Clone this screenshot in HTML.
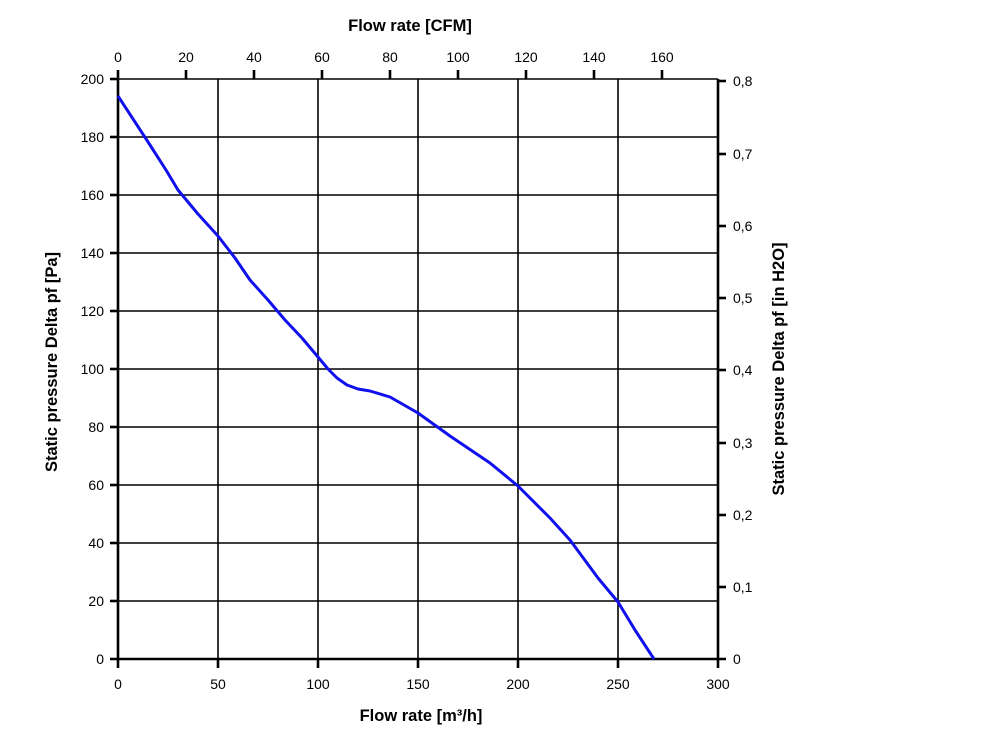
<!DOCTYPE html>
<html><head><style>body{margin:0;background:#fff}svg{display:block}text{font-family:"Liberation Sans",Arial,sans-serif;font-size:14px;fill:#000}.t{font-size:16.5px;font-weight:bold}</style></head><body>
<svg width="1000" height="736" xmlns="http://www.w3.org/2000/svg">
<g stroke="#000" stroke-width="1.6">
<line x1="118" y1="79" x2="718" y2="79"/><line x1="118" y1="137" x2="718" y2="137"/><line x1="118" y1="195" x2="718" y2="195"/><line x1="118" y1="253" x2="718" y2="253"/><line x1="118" y1="311" x2="718" y2="311"/><line x1="118" y1="369" x2="718" y2="369"/><line x1="118" y1="427" x2="718" y2="427"/><line x1="118" y1="485" x2="718" y2="485"/><line x1="118" y1="543" x2="718" y2="543"/><line x1="118" y1="601" x2="718" y2="601"/>
<line x1="218" y1="79" x2="218" y2="659"/><line x1="318" y1="79" x2="318" y2="659"/><line x1="418" y1="79" x2="418" y2="659"/><line x1="518" y1="79" x2="518" y2="659"/><line x1="618" y1="79" x2="618" y2="659"/>
</g>
<g stroke="#000" stroke-width="2.6">
<line x1="118" y1="70" x2="118" y2="668"/><line x1="718" y1="79" x2="718" y2="668"/><line x1="110" y1="659" x2="726" y2="659"/>
<line x1="110" y1="79" x2="118" y2="79"/><line x1="110" y1="137" x2="118" y2="137"/><line x1="110" y1="195" x2="118" y2="195"/><line x1="110" y1="253" x2="118" y2="253"/><line x1="110" y1="311" x2="118" y2="311"/><line x1="110" y1="369" x2="118" y2="369"/><line x1="110" y1="427" x2="118" y2="427"/><line x1="110" y1="485" x2="118" y2="485"/><line x1="110" y1="543" x2="118" y2="543"/><line x1="110" y1="601" x2="118" y2="601"/>
<line x1="218" y1="659" x2="218" y2="668"/><line x1="318" y1="659" x2="318" y2="668"/><line x1="418" y1="659" x2="418" y2="668"/><line x1="518" y1="659" x2="518" y2="668"/><line x1="618" y1="659" x2="618" y2="668"/>
<line x1="186" y1="70" x2="186" y2="79"/><line x1="254" y1="70" x2="254" y2="79"/><line x1="322" y1="70" x2="322" y2="79"/><line x1="390" y1="70" x2="390" y2="79"/><line x1="458" y1="70" x2="458" y2="79"/><line x1="526" y1="70" x2="526" y2="79"/><line x1="594" y1="70" x2="594" y2="79"/><line x1="662" y1="70" x2="662" y2="79"/>
<line x1="718" y1="587" x2="726" y2="587"/><line x1="718" y1="515" x2="726" y2="515"/><line x1="718" y1="443" x2="726" y2="443"/><line x1="718" y1="370" x2="726" y2="370"/><line x1="718" y1="298" x2="726" y2="298"/><line x1="718" y1="226" x2="726" y2="226"/><line x1="718" y1="154" x2="726" y2="154"/><line x1="718" y1="81" x2="726" y2="81"/>
</g>
<polyline fill="none" stroke="#1010ee" stroke-width="3" stroke-linejoin="round" points="118,96 150,145 166,170 178,190 198,214 218,236 235,258 250,280 268,300 285,320 302,338 318,357 328,369 337,378 347,385 358,389 370,391 390,397 418,413 450,436 490,463 518,486 550,518 570,540 598,578 618,602 635,630 654,659"/>
<g text-anchor="end">
<text x="104" y="84">200</text><text x="104" y="142">180</text><text x="104" y="200">160</text><text x="104" y="258">140</text><text x="104" y="316">120</text><text x="104" y="374">100</text><text x="104" y="432">80</text><text x="104" y="490">60</text><text x="104" y="548">40</text><text x="104" y="606">20</text><text x="104" y="664">0</text>
</g>
<g text-anchor="middle">
<text x="118" y="689">0</text><text x="218" y="689">50</text><text x="318" y="689">100</text><text x="418" y="689">150</text><text x="518" y="689">200</text><text x="618" y="689">250</text><text x="718" y="689">300</text>
<text x="118" y="62">0</text><text x="186" y="62">20</text><text x="254" y="62">40</text><text x="322" y="62">60</text><text x="390" y="62">80</text><text x="458" y="62">100</text><text x="526" y="62">120</text><text x="594" y="62">140</text><text x="662" y="62">160</text>
<text class="t" x="421" y="721">Flow rate [m³/h]</text>
<text class="t" x="410" y="31">Flow rate [CFM]</text>
<text class="t" transform="translate(57,362) rotate(-90)">Static pressure Delta pf [Pa]</text>
<text class="t" transform="translate(784,369) rotate(-90)">Static pressure Delta pf [in H2O]</text>
</g>
<g>
<text x="733" y="664">0</text><text x="733" y="592">0,1</text><text x="733" y="520">0,2</text><text x="733" y="448">0,3</text><text x="733" y="375">0,4</text><text x="733" y="303">0,5</text><text x="733" y="231">0,6</text><text x="733" y="159">0,7</text><text x="733" y="86">0,8</text>
</g>
</svg>
</body></html>
